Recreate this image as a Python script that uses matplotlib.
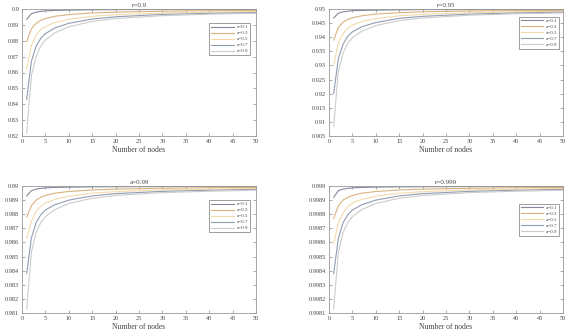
import numpy as np
import matplotlib
matplotlib.use('Agg')
import matplotlib.pyplot as plt

plt.rcParams['font.family'] = ['Liberation Serif', 'DejaVu Serif']

nodes = [1, 2, 3, 4, 5, 7, 10, 15, 20, 30, 40, 50]
labels = ['a=0.1', 'a=0.3', 'a=0.5', 'a=0.7', 'a=0.9']
colors = ['#808a99', '#d9b27e', '#f3dbac', '#919db1', '#cccccc']

titles = ['r=0.9', 'r=0.95', 'a=0.99', 'r=0.999']

r09 = [
    [0.8935, 0.8970, 0.8980, 0.8985, 0.8988, 0.8991, 0.8993, 0.8995, 0.8996, 0.8997, 0.8997, 0.8998],
    [0.8795, 0.8875, 0.8910, 0.8928, 0.8940, 0.8954, 0.8965, 0.8975, 0.8980, 0.8986, 0.8989, 0.8991],
    [0.8620, 0.8770, 0.8835, 0.8870, 0.8890, 0.8915, 0.8935, 0.8954, 0.8964, 0.8975, 0.8980, 0.8984],
    [0.8430, 0.8670, 0.8765, 0.8815, 0.8845, 0.8880, 0.8910, 0.8937, 0.8951, 0.8966, 0.8973, 0.8978],
    [0.8220, 0.8580, 0.8700, 0.8765, 0.8805, 0.8850, 0.8888, 0.8922, 0.8940, 0.8958, 0.8967, 0.8973],
]
r095 = [
    [0.9468, 0.9485, 0.9490, 0.9492, 0.9494, 0.9495, 0.9496, 0.9497, 0.9498, 0.9498, 0.9499, 0.9499],
    [0.9390, 0.9435, 0.9453, 0.9463, 0.9469, 0.9476, 0.9482, 0.9487, 0.9490, 0.9493, 0.9494, 0.9495],
    [0.9300, 0.9380, 0.9413, 0.9432, 0.9443, 0.9456, 0.9466, 0.9476, 0.9481, 0.9487, 0.9490, 0.9492],
    [0.9200, 0.9325, 0.9375, 0.9403, 0.9419, 0.9437, 0.9452, 0.9467, 0.9474, 0.9482, 0.9486, 0.9489],
    [0.9085, 0.9280, 0.9343, 0.9378, 0.9398, 0.9421, 0.9441, 0.9459, 0.9468, 0.9478, 0.9483, 0.9486],
]
r099 = [
    [0.98930, 0.98967, 0.98978, 0.98983, 0.98987, 0.98990, 0.98992, 0.98994, 0.98995, 0.98996, 0.98997, 0.98997],
    [0.98780, 0.98860, 0.98900, 0.98920, 0.98933, 0.98949, 0.98961, 0.98972, 0.98978, 0.98984, 0.98988, 0.98990],
    [0.98630, 0.98750, 0.98820, 0.98855, 0.98880, 0.98905, 0.98928, 0.98949, 0.98960, 0.98972, 0.98978, 0.98982],
    [0.98380, 0.98630, 0.98740, 0.98795, 0.98830, 0.98867, 0.98900, 0.98930, 0.98946, 0.98962, 0.98970, 0.98976],
    [0.98130, 0.98530, 0.98670, 0.98740, 0.98783, 0.98833, 0.98876, 0.98913, 0.98933, 0.98953, 0.98963, 0.98970],
]
r0999 = [
    [0.998920, 0.998967, 0.998978, 0.998983, 0.998987, 0.998990, 0.998992, 0.998994, 0.998995, 0.998996, 0.998997, 0.998997],
    [0.998770, 0.998860, 0.998900, 0.998920, 0.998933, 0.998949, 0.998961, 0.998972, 0.998978, 0.998984, 0.998988, 0.998990],
    [0.998590, 0.998740, 0.998810, 0.998853, 0.998880, 0.998905, 0.998928, 0.998949, 0.998960, 0.998972, 0.998978, 0.998982],
    [0.998380, 0.998630, 0.998740, 0.998795, 0.998830, 0.998867, 0.998900, 0.998930, 0.998946, 0.998962, 0.998970, 0.998976],
    [0.998130, 0.998530, 0.998670, 0.998740, 0.998783, 0.998833, 0.998876, 0.998913, 0.998933, 0.998953, 0.998963, 0.998970],
]
panels = [r09, r095, r099, r0999]

yticks = [
    [0.82, 0.83, 0.84, 0.85, 0.86, 0.87, 0.88, 0.89, 0.9],
    [0.905, 0.91, 0.915, 0.92, 0.925, 0.93, 0.935, 0.94, 0.945, 0.95],
    [0.981, 0.982, 0.983, 0.984, 0.985, 0.986, 0.987, 0.988, 0.989, 0.99],
    [0.9981, 0.9982, 0.9983, 0.9984, 0.9985, 0.9986, 0.9987, 0.9988, 0.9989, 0.999],
]
yticklabels = [
    ['0.82', '0.83', '0.84', '0.85', '0.86', '0.87', '0.88', '0.89', '0.9'],
    ['0.905', '0.91', '0.915', '0.92', '0.925', '0.93', '0.935', '0.94', '0.945', '0.95'],
    ['0.981', '0.982', '0.983', '0.984', '0.985', '0.986', '0.987', '0.988', '0.989', '0.99'],
    ['0.9981', '0.9982', '0.9983', '0.9984', '0.9985', '0.9986', '0.9987', '0.9988', '0.9989', '0.999'],
]
xmax = [50, 49.2, 50, 50]

W, H = 576, 332
fig = plt.figure(figsize=(W / 100, H / 100), dpi=100)
# axes boxes in pixels: left, top, right, bottom
boxes = [(22, 9, 256, 136), (329, 9, 563, 136), (22, 186, 256, 313), (329, 186, 563, 313)]
legend_anchor = [(0.985, 0.91), (0.995, 0.96), (0.985, 0.91), (0.995, 0.88)]

tc = '#444444'
for i, (l, t, r, b) in enumerate(boxes):
    ax = fig.add_axes([l / W, 1 - b / H, (r - l) / W, (b - t) / H])
    for k in range(5):
        ax.plot(nodes, panels[i][k], color=colors[k], lw=0.8, label=labels[k])
    ax.set_xlim(0, xmax[i])
    ax.set_ylim(yticks[i][0], yticks[i][-1])
    ax.set_xticks(np.arange(0, 51, 5))
    ax.set_yticks(yticks[i])
    ax.set_yticklabels(yticklabels[i])
    ax.tick_params(direction='in', top=True, right=True, length=2, width=0.5,
                   labelsize=4.5, colors='#888888', labelcolor=tc, pad=2)
    for s in ax.spines.values():
        s.set_color('#999999')
        s.set_linewidth(0.6)
    ax.set_title(titles[i], fontsize=5, color=tc, pad=1.5)
    ax.set_xlabel('Number of nodes', fontsize=5.5, color=tc, labelpad=1.5)
    leg = ax.legend(loc='upper right', bbox_to_anchor=legend_anchor[i], fontsize=3.6,
                    frameon=True, fancybox=False, edgecolor='#555555', handlelength=4.5,
                    borderpad=0.4, labelspacing=0.3, handletextpad=0.5)
    leg.get_frame().set_linewidth(0.5)
    for txt in leg.get_texts():
        txt.set_color(tc)

fig.savefig('out.png', dpi=100, facecolor='white')
